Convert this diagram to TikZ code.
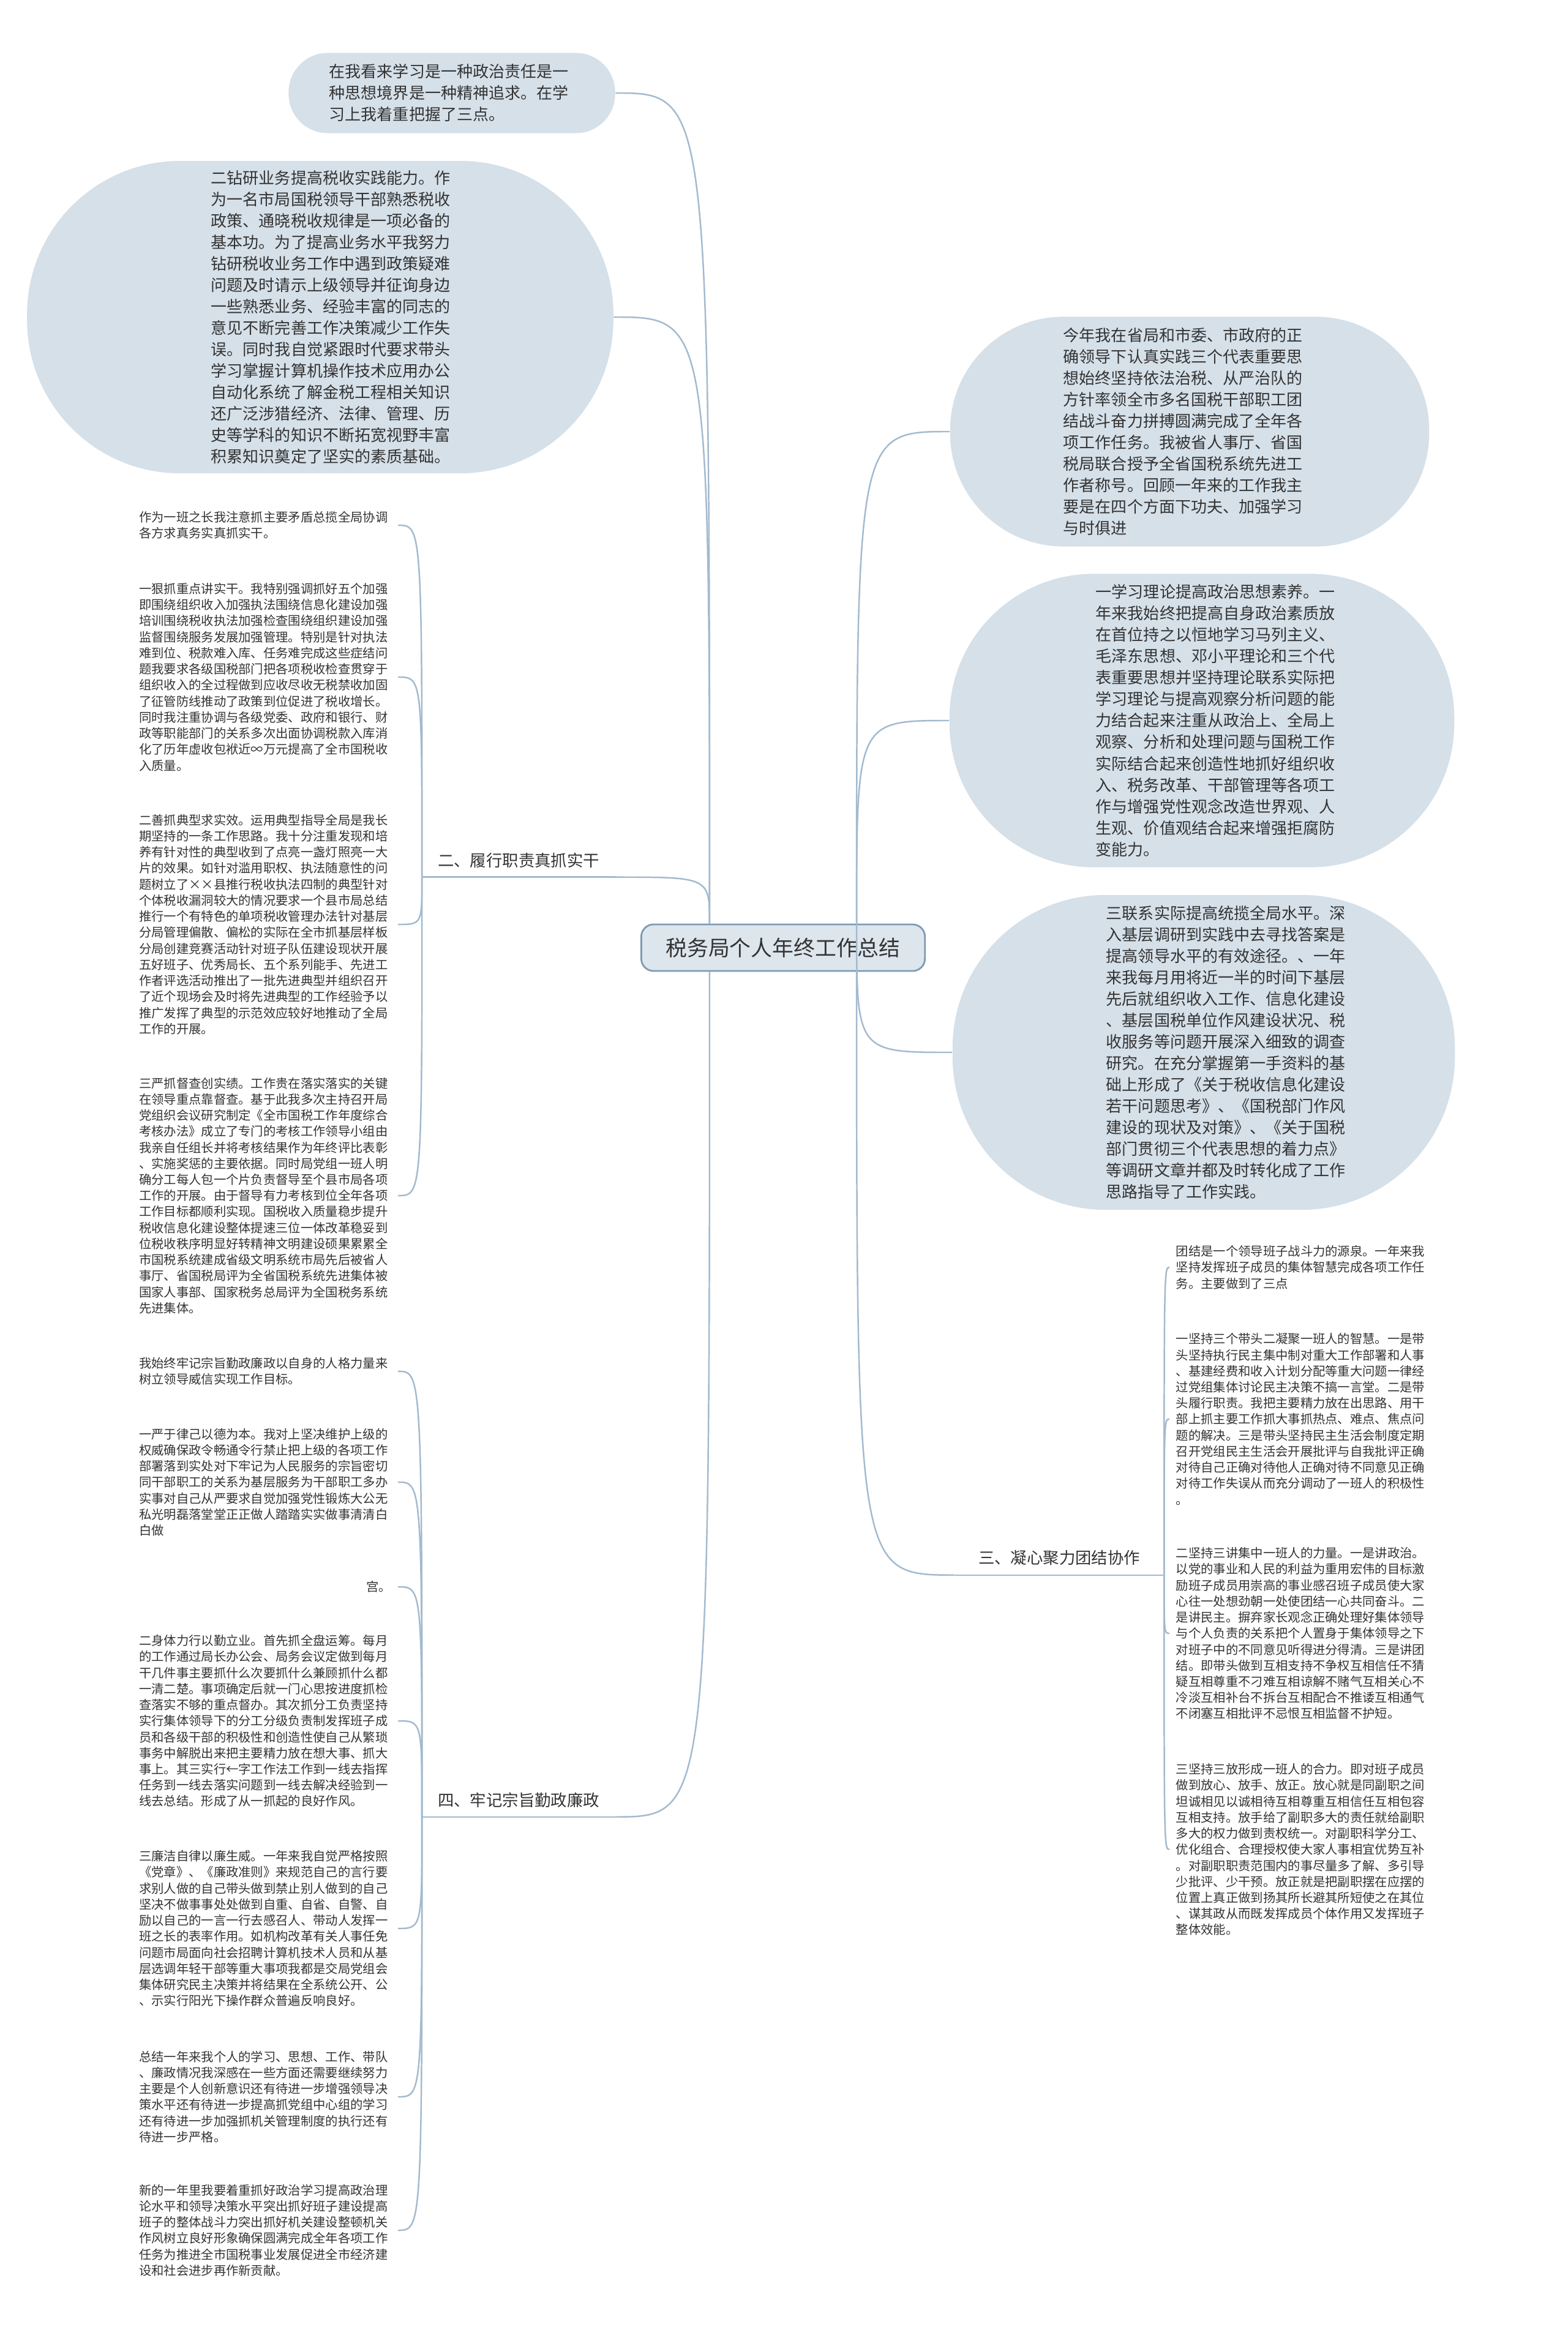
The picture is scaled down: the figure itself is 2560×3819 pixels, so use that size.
\documentclass[tikz,border=0pt]{standalone}
\usepackage{fontspec}
\setmainfont{Noto Sans CJK SC}
\usetikzlibrary{positioning}

\definecolor{bubblefill}{HTML}{D5E0E9}
\definecolor{rootfill}{HTML}{DDE6ED}
\definecolor{rootline}{HTML}{7E9BB4}
\definecolor{connblue}{HTML}{A3BACE}
\definecolor{inkgray}{HTML}{333333}

% text block of a bubble, moved sideways by #1
\newcommand{\bubbletext}[2]{\hspace*{#1}\parbox{4cm}{#2}\hspace*{-#1}}

\begin{document}
\begin{tikzpicture}[x=0.01cm, y=-0.01cm,
  rootbox/.style={fill=rootfill, draw=rootline, line width=0.8pt, rounded corners=0.2cm,
    minimum width=4.63cm, minimum height=0.76cm, text=inkgray, font=\fontsize{9.9pt}{12pt}\selectfont},
  bubble/.style={fill=bubblefill, inner sep=0pt, text=inkgray, font=\fontsize{7.4pt}{9.96pt}\selectfont},
  branchlabel/.style={minimum height=0.54cm, inner sep=0pt, text=inkgray, font=\fontsize{7.5pt}{9pt}\selectfont},
  leafnote/.style={text width=4.12cm, align=left, inner xsep=0.1cm, inner ysep=0.05cm,
    text=inkgray, font=\fontsize{5.78pt}{7.46pt}\selectfont},
  conn/.style={draw=connblue, line width=0.7pt}]

\fill[white] (0,0) rectangle (2560,3819);
\useasboundingbox (0,0) rectangle (2560,3819);

% centre
\node[rootbox] (root) at (1279,1548) {税务局个人年终工作总结};

% left bubbles
\node[bubble, minimum width=5.33cm, minimum height=1.31cm, rounded corners=0.64cm] (intro) at (738,152) {\bubbletext{0cm}{%
在我看来学习是一种政治责任是一\\
种思想境界是一种精神追求。在学\\
习上我着重把握了三点。}};
\node[bubble, minimum width=9.57cm, minimum height=5.10cm, rounded corners=2.5cm] (studyb) at (523,518) {\bubbletext{0.22cm}{%
二钻研业务提高税收实践能力。作\\
为一名市局国税领导干部熟悉税收\\
政策、通晓税收规律是一项必备的\\
基本功。为了提高业务水平我努力\\
钻研税收业务工作中遇到政策疑难\\
问题及时请示上级领导并征询身边\\
一些熟悉业务、经验丰富的同志的\\
意见不断完善工作决策减少工作失\\
误。同时我自觉紧跟时代要求带头\\
学习掌握计算机操作技术应用办公\\
自动化系统了解金税工程相关知识\\
还广泛涉猎经济、法律、管理、历\\
史等学科的知识不断拓宽视野丰富\\
积累知识奠定了坚实的素质基础。}};

% right bubbles
\node[bubble, minimum width=7.82cm, minimum height=3.75cm, rounded corners=1.85cm] (review) at (1943,705) {\bubbletext{-0.06cm}{%
今年我在省局和市委、市政府的正\\
确领导下认真实践三个代表重要思\\
想始终坚持依法治税、从严治队的\\
方针率领全市多名国税干部职工团\\
结战斗奋力拼搏圆满完成了全年各\\
项工作任务。我被省人事厅、省国\\
税局联合授予全省国税系统先进工\\
作者称号。回顾一年来的工作我主\\
要是在四个方面下功夫、加强学习\\
与时俱进}};
\node[bubble, minimum width=8.24cm, minimum height=4.79cm, rounded corners=2.35cm] (studya) at (1963,1177) {\bubbletext{0.27cm}{%
一学习理论提高政治思想素养。一\\
年来我始终把提高自身政治素质放\\
在首位持之以恒地学习马列主义、\\
毛泽东思想、邓小平理论和三个代\\
表重要思想并坚持理论联系实际把\\
学习理论与提高观察分析问题的能\\
力结合起来注重从政治上、全局上\\
观察、分析和处理问题与国税工作\\
实际结合起来创造性地抓好组织收\\
入、税务改革、干部管理等各项工\\
作与增强党性观念改造世界观、人\\
生观、价值观结合起来增强拒腐防\\
变能力。}};
\node[bubble, minimum width=8.2cm, minimum height=5.14cm, rounded corners=2.5cm] (studyc) at (1966,1719) {\bubbletext{0.41cm}{%
三联系实际提高统揽全局水平。深\\
入基层调研到实践中去寻找答案是\\
提高领导水平的有效途径。、一年\\
来我每月用将近一半的时间下基层\\
先后就组织收入工作、信息化建设\\
、基层国税单位作风建设状况、税\\
收服务等问题开展深入细致的调查\\
研究。在充分掌握第一手资料的基\\
础上形成了《关于税收信息化建设\\
若干问题思考》、《国税部门作风\\
建设的现状及对策》、《关于国税\\
部门贯彻三个代表思想的着力点》\\
等调研文章并都及时转化成了工作\\
思路指导了工作实践。}};

% branch labels
\node[branchlabel, minimum width=3.14cm] (duty) at (847,1405) {二、履行职责真抓实干};
\node[branchlabel, minimum width=3.14cm] (clean) at (847,2940) {四、牢记宗旨勤政廉政};
\node[branchlabel, minimum width=3.41cm] (unity) at (1730,2545) {三、凝心聚力团结协作};
\draw[conn] (duty.south west) -- (duty.south east);
\draw[conn] (clean.south west) -- (clean.south east);
\draw[conn] (unity.south west) -- (unity.south east);

% 二
\node[leafnote, anchor=east] (d1) at (650,858) {作为一班之长我注意抓主要矛盾总揽全局协调\\
各方求真务实真抓实干。};
\node[leafnote, anchor=east] (d2) at (650,1106) {一狠抓重点讲实干。我特别强调抓好五个加强\\
即围绕组织收入加强执法围绕信息化建设加强\\
培训围绕税收执法加强检查围绕组织建设加强\\
监督围绕服务发展加强管理。特别是针对执法\\
难到位、税款难入库、任务难完成这些症结问\\
题我要求各级国税部门把各项税收检查贯穿于\\
组织收入的全过程做到应收尽收无税禁收加固\\
了征管防线推动了政策到位促进了税收增长。\\
同时我注重协调与各级党委、政府和银行、财\\
政等职能部门的关系多次出面协调税款入库消\\
化了历年虚收包袱近∞万元提高了全市国税收\\
入质量。};
\node[leafnote, anchor=east] (d3) at (650,1510) {二善抓典型求实效。运用典型指导全局是我长\\
期坚持的一条工作思路。我十分注重发现和培\\
养有针对性的典型收到了点亮一盏灯照亮一大\\
片的效果。如针对滥用职权、执法随意性的问\\
题树立了××县推行税收执法四制的典型针对\\
个体税收漏洞较大的情况要求一个县市局总结\\
推行一个有特色的单项税收管理办法针对基层\\
分局管理偏散、偏松的实际在全市抓基层样板\\
分局创建竞赛活动针对班子队伍建设现状开展\\
五好班子、优秀局长、五个系列能手、先进工\\
作者评选活动推出了一批先进典型并组织召开\\
了近个现场会及时将先进典型的工作经验予以\\
推广发挥了典型的示范效应较好地推动了全局\\
工作的开展。};
\node[leafnote, anchor=east] (d4) at (650,1953) {三严抓督查创实绩。工作贵在落实落实的关键\\
在领导重点靠督查。基于此我多次主持召开局\\
党组织会议研究制定《全市国税工作年度综合\\
考核办法》成立了专门的考核工作领导小组由\\
我亲自任组长并将考核结果作为年终评比表彰\\
、实施奖惩的主要依据。同时局党组一班人明\\
确分工每人包一个片负责督导至个县市局各项\\
工作的开展。由于督导有力考核到位全年各项\\
工作目标都顺利实现。国税收入质量稳步提升\\
税收信息化建设整体提速三位一体改革稳妥到\\
位税收秩序明显好转精神文明建设硕果累累全\\
市国税系统建成省级文明系统市局先后被省人\\
事厅、省国税局评为全省国税系统先进集体被\\
国家人事部、国家税务总局评为全国税务系统\\
先进集体。};

% 四
\node[leafnote, anchor=east] (k1) at (650,2240) {我始终牢记宗旨勤政廉政以自身的人格力量来\\
树立领导威信实现工作目标。};
\node[leafnote, anchor=east] (k2) at (650,2421) {一严于律己以德为本。我对上坚决维护上级的\\
权威确保政令畅通令行禁止把上级的各项工作\\
部署落到实处对下牢记为人民服务的宗旨密切\\
同干部职工的关系为基层服务为干部职工多办\\
实事对自己从严要求自觉加强党性锻炼大公无\\
私光明磊落堂堂正正做人踏踏实实做事清清白\\
白做};
\node[leafnote, anchor=east, align=right] (k3) at (650,2592) {宫。};
\node[leafnote, anchor=east] (k4) at (650,2811) {二身体力行以勤立业。首先抓全盘运筹。每月\\
的工作通过局长办公会、局务会议定做到每月\\
干几件事主要抓什么次要抓什么兼顾抓什么都\\
一清二楚。事项确定后就一门心思按进度抓检\\
查落实不够的重点督办。其次抓分工负责坚持\\
实行集体领导下的分工分级负责制发挥班子成\\
员和各级干部的积极性和创造性使自己从繁琐\\
事务中解脱出来把主要精力放在想大事、抓大\\
事上。其三实行←字工作法工作到一线去指挥\\
任务到一线去落实问题到一线去解决经验到一\\
线去总结。形成了从一抓起的良好作风。};
\node[leafnote, anchor=east] (k5) at (650,3150) {三廉洁自律以廉生威。一年来我自觉严格按照\\
《党章》、《廉政准则》来规范自己的言行要\\
求别人做的自己带头做到禁止别人做到的自己\\
坚决不做事事处处做到自重、自省、自警、自\\
励以自己的一言一行去感召人、带动人发挥一\\
班之长的表率作用。如机构改革有关人事任免\\
问题市局面向社会招聘计算机技术人员和从基\\
层选调年轻干部等重大事项我都是交局党组会\\
集体研究民主决策并将结果在全系统公开、公\\
、示实行阳光下操作群众普遍反响良好。};
\node[leafnote, anchor=east] (k6) at (650,3425) {总结一年来我个人的学习、思想、工作、带队\\
、廉政情况我深感在一些方面还需要继续努力\\
主要是个人创新意识还有待进一步增强领导决\\
策水平还有待进一步提高抓党组中心组的学习\\
还有待进一步加强抓机关管理制度的执行还有\\
待进一步严格。};
\node[leafnote, anchor=east] (k7) at (650,3643) {新的一年里我要着重抓好政治学习提高政治理\\
论水平和领导决策水平突出抓好班子建设提高\\
班子的整体战斗力突出抓好机关建设整顿机关\\
作风树立良好形象确保圆满完成全年各项工作\\
任务为推进全市国税事业发展促进全市经济建\\
设和社会进步再作新贡献。};

% 三
\node[leafnote, anchor=west] (u1) at (1910,2070) {团结是一个领导班子战斗力的源泉。一年来我\\
坚持发挥班子成员的集体智慧完成各项工作任\\
务。主要做到了三点};
\node[leafnote, anchor=west] (u2) at (1910,2318) {一坚持三个带头二凝聚一班人的智慧。一是带\\
头坚持执行民主集中制对重大工作部署和人事\\
、基建经费和收入计划分配等重大问题一律经\\
过党组集体讨论民主决策不搞一言堂。二是带\\
头履行职责。我把主要精力放在出思路、用干\\
部上抓主要工作抓大事抓热点、难点、焦点问\\
题的解决。三是带头坚持民主生活会制度定期\\
召开党组民主生活会开展批评与自我批评正确\\
对待自己正确对待他人正确对待不同意见正确\\
对待工作失误从而充分调动了一班人的积极性\\
。};
\node[leafnote, anchor=west] (u3) at (1910,2668) {二坚持三讲集中一班人的力量。一是讲政治。\\
以党的事业和人民的利益为重用宏伟的目标激\\
励班子成员用崇高的事业感召班子成员使大家\\
心往一处想劲朝一处使团结一心共同奋斗。二\\
是讲民主。摒弃家长观念正确处理好集体领导\\
与个人负责的关系把个人置身于集体领导之下\\
对班子中的不同意见听得进分得清。三是讲团\\
结。即带头做到互相支持不争权互相信任不猜\\
疑互相尊重不刁难互相谅解不赌气互相关心不\\
冷淡互相补台不拆台互相配合不推诿互相通气\\
不闭塞互相批评不忌恨互相监督不护短。};
\node[leafnote, anchor=west] (u4) at (1910,3021) {三坚持三放形成一班人的合力。即对班子成员\\
做到放心、放手、放正。放心就是同副职之间\\
坦诚相见以诚相待互相尊重互相信任互相包容\\
互相支持。放手给了副职多大的责任就给副职\\
多大的权力做到责权统一。对副职科学分工、\\
优化组合、合理授权使大家人事相宜优势互补\\
。对副职职责范围内的事尽量多了解、多引导\\
少批评、少干预。放正就是把副职摆在应摆的\\
位置上真正做到扬其所长避其所短使之在其位\\
、谋其政从而既发挥成员个体作用又发挥班子\\
整体效能。};

% connectors from the centre
\coordinate (nw) at ([xshift=-1.2cm]root.north);
\coordinate (ne) at ([xshift=1.2cm]root.north);
\coordinate (sw) at ([xshift=-1.2cm]root.south);
\coordinate (se) at ([xshift=1.2cm]root.south);
\draw[conn] (nw) .. controls (nw |- intro.east) .. (intro.east);
\draw[conn] (nw) .. controls (nw |- studyb.east) .. (studyb.east);
\draw[conn] (nw) .. controls (nw |- duty.south east) .. (duty.south east);
\draw[conn] (sw) .. controls (sw |- clean.south east) .. (clean.south east);
\draw[conn] (ne) .. controls (ne |- review.west) .. (review.west);
\draw[conn] (ne) .. controls (ne |- studya.west) .. (studya.west);
\draw[conn] (ne) .. controls (ne |- studyc.west) .. (studyc.west);
\draw[conn] (se) .. controls (se |- unity.south west) .. (unity.south west);

% connectors to the notes
\foreach \c in {d1,d2,d3,d4}
  \draw[conn] (duty.south west) .. controls (duty.south west |- \c.east) .. (\c.east);
\foreach \c in {k1,k2,k3,k4,k5,k6,k7}
  \draw[conn] (clean.south west) .. controls (clean.south west |- \c.east) .. (\c.east);
\foreach \c in {u1,u2,u3,u4}
  \draw[conn] (unity.south east) .. controls (unity.south east |- \c.west) .. (\c.west);

\end{tikzpicture}
\end{document}
